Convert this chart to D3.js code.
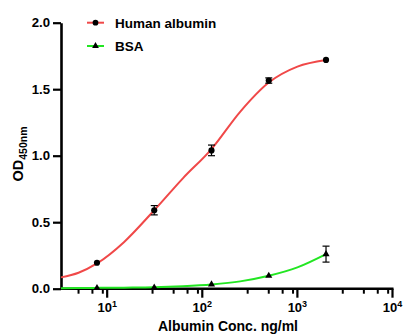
<!DOCTYPE html>
<html>
  <head>
    <meta charset="utf-8">
    <title>Albumin ELISA</title>
    <script src="https://d3js.org/d3.v7.min.js"></script>
    <style>
      body { margin: 0; background: #fff; }
      svg { font-family: "Liberation Sans", Arial, sans-serif; font-weight: bold; }
    </style>
  </head>
  <body>
    <svg id="svg" width="406" height="335"></svg>
    <script>
      // measured points
      var conc = [7.8125, 31.25, 125, 500, 2000];
      var humanOD = [0.195, 0.59, 1.04, 1.565, 1.72];
      var humanErr = [0, 0.035, 0.04, 0.02, 0];
      var bsaOD = [0.005, 0.009, 0.032, 0.097, 0.26];
      var bsaErr = [0, 0, 0, 0, 0.06];
      // fitted curves
      var fitConc = [3.27, 5, 7.8125, 15, 31.25, 62.5, 125, 250, 500, 1000, 2000];
      var humanFit = [0.085, 0.12, 0.19, 0.35, 0.59, 0.83, 1.05, 1.33, 1.55, 1.67, 1.72];
      var bsaFit = [0.004, 0.005, 0.006, 0.008, 0.011, 0.019, 0.032, 0.055, 0.097, 0.16, 0.26];
      var yTicks = [0, 0.5, 1.0, 1.5, 2.0];
      var xMajor = [10, 100, 1000, 10000];
      var xMinor = [5, 7, 9, 30, 50, 70, 90, 300, 500, 700, 900, 3000, 5000, 7000, 9000];
      var series = [
        { name: "Human albumin", y: humanOD, err: humanErr, fit: humanFit, colour: "#f04848", symbol: d3.symbolCircle },
        { name: "BSA", y: bsaOD, err: bsaErr, fit: bsaFit, colour: "#22e622", symbol: d3.symbolTriangle }
      ];

      var svg = d3.select("#svg");
      var x = d3.scaleLog().domain([3.27, 10000]).range([61, 392.5]);
      var y = d3.scaleLinear().domain([0, 2]).range([288.7, 22.7]);

      // y axis
      var yAxis = svg.append("g").attr("transform", "translate(61,0)")
        .call(d3.axisLeft(y).tickValues(yTicks).tickFormat(d3.format(".1f")).tickSize(8).tickPadding(3).tickSizeOuter(0));
      yAxis.select(".domain").attr("stroke-width", 2.6);
      yAxis.selectAll(".tick line").attr("stroke-width", 2.2);
      yAxis.selectAll(".tick text").attr("font-size", 13.2).attr("font-weight", "bold").attr("fill", "#000")
        .attr("font-family", "Liberation Sans, Arial, sans-serif");

      // x axis
      var xg = svg.append("g").attr("transform", "translate(0,288.7)");
      xg.append("line").attr("x1", 61).attr("x2", x(10000) + 1).attr("stroke", "#000").attr("stroke-width", 2.6);
      xg.selectAll(".minor").data(xMinor).enter().append("line")
        .attr("x1", function(d) { return x(d); }).attr("x2", function(d) { return x(d); })
        .attr("y1", 0).attr("y2", 5).attr("stroke", "#000").attr("stroke-width", 2);
      xg.selectAll(".major").data(xMajor).enter().append("line")
        .attr("x1", function(d) { return x(d); }).attr("x2", function(d) { return x(d); })
        .attr("y1", 0).attr("y2", 9).attr("stroke", "#000").attr("stroke-width", 2.2);
      var lab = xg.selectAll(".lab").data(xMajor).enter().append("text")
        .attr("x", function(d) { return x(d); }).attr("y", 23.5)
        .attr("text-anchor", "middle").attr("font-size", 13);
      lab.append("tspan").text("10");
      lab.append("tspan").attr("dy", -5.5).attr("font-size", 9).text(function(d) { return Math.round(Math.log10(d)); });

      svg.append("text").attr("x", 228).attr("y", 331).attr("text-anchor", "middle")
        .attr("font-size", 14).text("Albumin Conc. ng/ml");
      var yl = svg.append("text").attr("transform", "translate(23,154) rotate(-90)")
        .attr("text-anchor", "middle").attr("font-size", 14.5);
      yl.append("tspan").text("OD");
      yl.append("tspan").attr("dy", 4).attr("font-size", 10.5).text("450nm");

      // curves, error bars, points
      var line = d3.line().curve(d3.curveMonotoneX);
      series.forEach(function(s) {
        svg.append("path")
          .attr("d", line(fitConc.map(function(c, i) { return [x(c), y(s.fit[i])]; })))
          .attr("fill", "none").attr("stroke", s.colour).attr("stroke-width", 2);
      });
      series.forEach(function(s) {
        var g = svg.append("g");
        conc.forEach(function(c, i) {
          if (s.err[i] > 0) {
            var cx = x(c), y0 = y(s.y[i] - s.err[i]), y1 = y(s.y[i] + s.err[i]);
            g.append("line").attr("x1", cx).attr("x2", cx).attr("y1", y0).attr("y2", y1).attr("stroke", "#000").attr("stroke-width", 1.2);
            [y0, y1].forEach(function(yy) {
              g.append("line").attr("x1", cx - 3.5).attr("x2", cx + 3.5).attr("y1", yy).attr("y2", yy).attr("stroke", "#000").attr("stroke-width", 1.2);
            });
          }
        });
        g.selectAll("path").data(conc).enter().append("path")
          .attr("transform", function(c, i) { return "translate(" + x(c) + "," + y(s.y[i]) + ")"; })
          .attr("d", d3.symbol().type(s.symbol).size(s.symbol === d3.symbolCircle ? 30 : 22))
          .attr("fill", "#000");
      });

      // legend
      series.forEach(function(s, i) {
        var ly = 22.7 + i * 23.3;
        var g = svg.append("g").attr("transform", "translate(0," + ly + ")");
        g.append("line").attr("x1", 87).attr("x2", 104).attr("stroke", s.colour).attr("stroke-width", 2);
        g.append("path").attr("transform", "translate(95.5,0)")
          .attr("d", d3.symbol().type(s.symbol).size(s.symbol === d3.symbolCircle ? 26 : 20)).attr("fill", "#000");
        g.append("text").attr("x", 115).attr("y", 5).attr("font-size", 13.5).text(s.name);
      });
    </script>
  </body>
</html>
